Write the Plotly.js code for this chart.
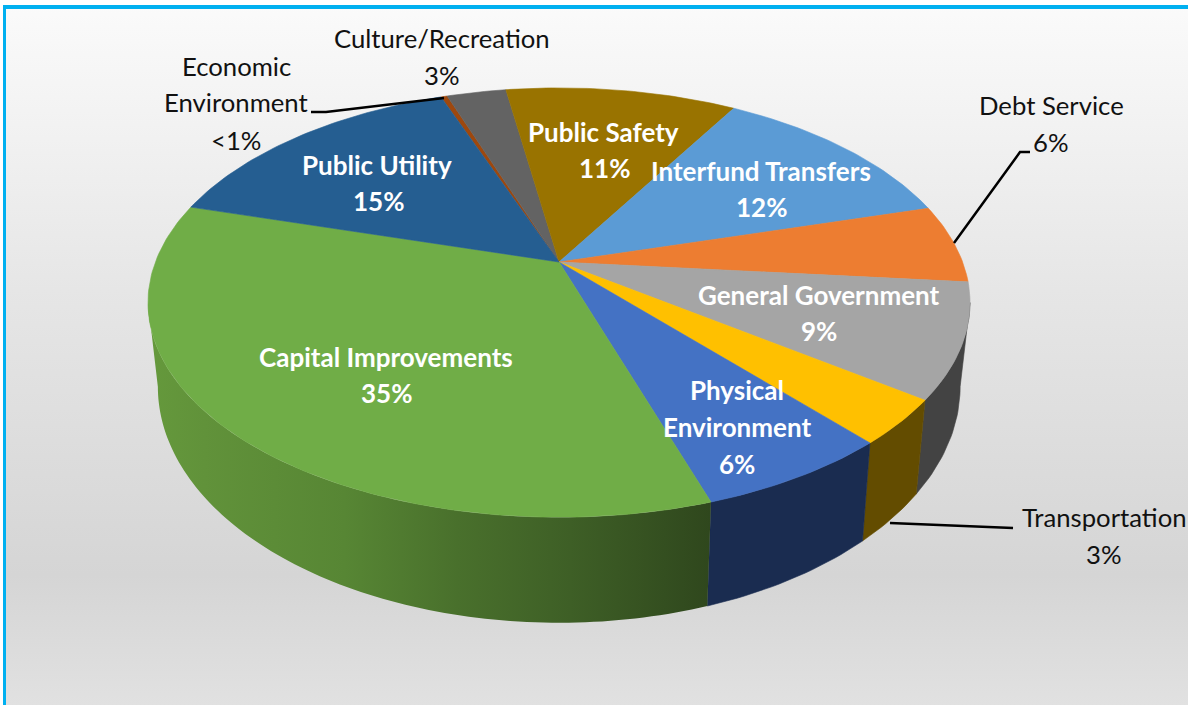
<!DOCTYPE html>
<html>
<head>
<meta charset="utf-8">
<script src="https://cdn.plot.ly/plotly-3.0.1.min.js"></script>
<style>
html,body{margin:0;padding:0;background:#fff;overflow:hidden}
#chart{width:1188px;height:705px;background:linear-gradient(to bottom,#fbfbfb 0px,#e6e6e6 290px,#d5d5d5 575px,#e1e1e1 705px)}
</style>
</head>
<body>
<div id="chart"></div>
<script>
// Data, clockwise from the start of the first slice
const categories = ["Economic Environment","Culture/Recreation","Public Safety","Interfund Transfers","Debt Service","General Government","Transportation","Physical Environment","Capital Improvements","Public Utility"];
const values = [0.3,2.8,10.9,12.2,5.9,8.6,3.4,6.5,34.5,14.9];
const topColors = ["#9E480E","#636363","#997300","#5B9BD5","#ED7D31","#A5A5A5","#FFC000","#4472C4","#70AD47","#255E91"];
const wallColors = ["#5f2b08","#3b3b3b","#5c4500","#375d80","#8e4b1d","#434343","#634c00","#1a2c50","#4f7a32","#163857"];
const startAngle = 110.15;

// Data labels: line text, centre x, centre y, bold flag
const labelText = ["Culture/Recreation","3%","Economic","Environment","<1%","Debt Service","6%","Transportation","3%",
  "Public Utility","15%","Public Safety","11%","Interfund Transfers","12%","General Government","9%","Capital Improvements","35%","Physical","Environment","6%"];
const labelX = [442,442,236,236,236,1051,1051,1104,1104,377,378,603,604,761,761,819,819,386,386,737,737,737];
const labelY = [38,75,66,102,140,105,142,517,554,165,201,132,168,171,207,295,331,357,393,390,427,464];
const labelBold = [0,0,0,0,0,0,0,0,0,1,1,1,1,1,1,1,1,1,1,1,1,1];

// Projection of the tilted disc
const cx=559, cy=262, a=403.6, b=207, k=0.189;
const wallScaleX=0.976, wallScaleY=1.10, wallCy=342;
const rad=d=>d*Math.PI/180;
function topPt(t){const X=Math.cos(rad(t)),Y=Math.sin(rad(t)),w=1+k*Y;return [cx+a*X/w,cy-b*Y/w];}
function botPt(t){const p=topPt(t);return [cx+(p[0]-cx)*wallScaleX,wallCy+(p[1]-cy)*wallScaleY];}
function arc(t0,t1,fn){const n=Math.max(2,Math.ceil(Math.abs(t1-t0)));const o=[];for(let i=0;i<=n;i++)o.push(fn(t0+(t1-t0)*i/n));return o;}

const total=values.reduce((s,v)=>s+v,0);
const silhouette=Math.asin(k)*180/Math.PI;
const visFrom=-silhouette, visTo=-180+silhouette;
const walls=[],tops=[];
let ang=startAngle;
values.forEach((v,i)=>{
  const t0=ang,t1=ang-v/total*360;ang=t1;
  const pts=[[cx,cy]].concat(arc(t0,t1,topPt));pts.push([cx,cy]);
  tops.push({type:'scatter',mode:'lines',x:pts.map(p=>p[0]),y:pts.map(p=>p[1]),fill:'toself',fillcolor:topColors[i],
    line:{color:topColors[i],width:0.6},hoverinfo:'skip',name:categories[i],showlegend:false});
  const w0=Math.min(t0,visFrom),w1=Math.max(t1,visTo);
  if(w0>w1){
    const up=arc(w0,w1,topPt),lo=arc(w1,w0,botPt);const poly=up.concat(lo);poly.push(up[0]);
    const tr={type:'scatter',x:poly.map(p=>p[0]),y:poly.map(p=>p[1]),fill:'toself',hoverinfo:'skip',name:categories[i]+' side',showlegend:false};
    if(categories[i]==="Capital Improvements"){
      tr.mode='none';
      tr.fillgradient={type:'horizontal',colorscale:[[0,'#65993c'],[0.1,'#61923a'],[0.35,'#578634'],[0.55,'#49702c'],[0.75,'#3e5f26'],[1,'#2f471d']]};
    } else {
      tr.mode='lines';tr.fillcolor=wallColors[i];tr.line={color:wallColors[i],width:0.6};
    }
    walls.push(tr);
  }
});

const annotations=labelText.map((s,i)=>({xref:'x',yref:'y',x:labelX[i],y:labelY[i],text:labelBold[i]?'<b>'+s.replace('<','&lt;')+'</b>':s.replace('<','&lt;'),
  showarrow:false,xanchor:'center',yanchor:'middle',
  font:{family:'Lato, "Open Sans", sans-serif',size:labelBold[i]?26:25.7,color:labelBold[i]?'#ffffff':'#111111'}}));

const lw={color:'#000000',width:2.5};
const shapes=[
  {type:'rect',xref:'paper',yref:'paper',x0:0,x1:1,y0:1,y1:1-5/705,fillcolor:'#ffffff',line:{width:0},layer:'below'},
  {type:'rect',xref:'x',yref:'y',x0:0,x1:3,y0:0,y1:705,fillcolor:'#ffffff',line:{width:0},layer:'below'},
  {type:'rect',xref:'x',yref:'y',x0:3,x1:1188,y0:5,y1:9,fillcolor:'#00B0F0',line:{width:0},layer:'below'},
  {type:'rect',xref:'x',yref:'y',x0:3,x1:6,y0:5,y1:705,fillcolor:'#00B0F0',line:{width:0},layer:'below'},
  {type:'path',path:'M311,112 L326,112 L444,98',line:lw},
  {type:'path',path:'M954,243 L1020,152 L1030,152',line:lw},
  {type:'path',path:'M890,523 L1013,528',line:lw}
];

Plotly.newPlot('chart',walls.concat(tops),{
  width:1188,height:705,margin:{l:0,r:0,t:0,b:0},
  paper_bgcolor:'rgba(0,0,0,0)',plot_bgcolor:'rgba(0,0,0,0)',showlegend:false,
  xaxis:{range:[0,1188],visible:false,fixedrange:true},
  yaxis:{range:[705,0],visible:false,fixedrange:true},
  annotations,shapes
},{displayModeBar:false,responsive:false});
</script>
</body>
</html>
